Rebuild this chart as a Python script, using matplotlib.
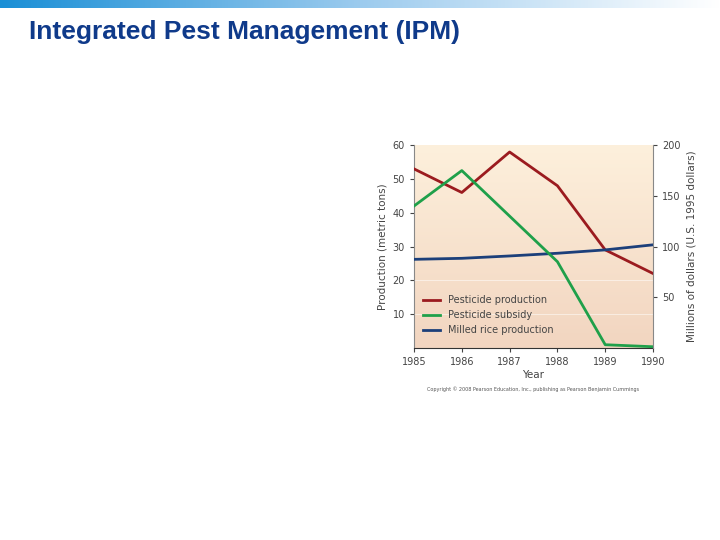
import numpy as np
import matplotlib.pyplot as plt
from matplotlib.colors import LinearSegmentedColormap

years = [1985, 1986, 1987, 1988, 1989, 1990]
pesticide_production = [53, 46, 58, 48, 29, 22]          # metric tons
pesticide_subsidy = [140, 175, 130, 85, 3, 1]             # millions of dollars
milled_rice = [26.2, 26.5, 27.2, 28.0, 29.0, 30.5]        # production

fig = plt.figure(figsize=(7.2, 5.4), dpi=100)

# header gradient bar
bar = fig.add_axes([0, 0.985, 1, 0.015])
bar_cmap = LinearSegmentedColormap.from_list("hdr", ["#1a8fd6", "#9ccbee", "#ffffff"])
bar.imshow(np.linspace(0, 1, 256)[None, :], aspect="auto", cmap=bar_cmap)
bar.axis("off")

fig.text(0.04, 0.94, "Integrated Pest Management (IPM)", fontsize=19,
         fontweight="bold", color="#0f3a8a", family="Liberation Sans", va="center")

ax = fig.add_axes([0.575, 0.356, 0.332, 0.375])
bg = LinearSegmentedColormap.from_list("bg", ["#fdf0dc", "#f2d5c0"])
ax.imshow(np.linspace(0, 1, 256)[:, None], aspect="auto", cmap=bg,
          extent=[1985, 1990, 0, 60], zorder=0)
for y in [10, 20]:
    ax.axhline(y, color="white", lw=0.6, alpha=0.6, zorder=1)

ax2 = ax.twinx()
l1, = ax.plot(years, pesticide_production, color="#9b1b1f", lw=2, zorder=3)
l3, = ax.plot(years, milled_rice, color="#1c3f7a", lw=2, zorder=3)
l2, = ax2.plot(years, pesticide_subsidy, color="#1fa04a", lw=2)

ax.set_xlim(1985, 1990)
ax.set_ylim(0, 60)
ax2.set_ylim(0, 200)
ax.set_yticks([10, 20, 30, 40, 50, 60])
ax2.set_yticks([50, 100, 150, 200])
ax.set_xticks(years)

tc = "#444444"
for a in (ax, ax2):
    for s in a.spines.values():
        s.set_visible(False)
    a.tick_params(labelsize=7, colors=tc, length=3)
ax.spines["left"].set_visible(True)
ax.spines["bottom"].set_visible(True)
ax2.spines["right"].set_visible(True)
ax2.spines["right"].set_color("#888888")
ax.spines["left"].set_color("#888888")
ax.spines["bottom"].set_color("#333333")

ax.set_ylabel("Production (metric tons)", fontsize=7.5, color=tc)
ax2.set_ylabel("Millions of dollars (U.S. 1995 dollars)", fontsize=7.5, color=tc)
ax.set_xlabel("Year", fontsize=7.5, color=tc, labelpad=2)

ax2.legend([l1, l2, l3], ["Pesticide production", "Pesticide subsidy",
                          "Milled rice production"],
           loc="lower left", frameon=False, fontsize=7, handlelength=1.8,
           labelcolor=tc, bbox_to_anchor=(0.0, 0.02))

fig.text(0.74, 0.275, "Copyright © 2008 Pearson Education, Inc., publishing as Pearson Benjamin Cummings",
         fontsize=3.5, color="#555555", ha="center")

fig.savefig("out.png", dpi=100)
